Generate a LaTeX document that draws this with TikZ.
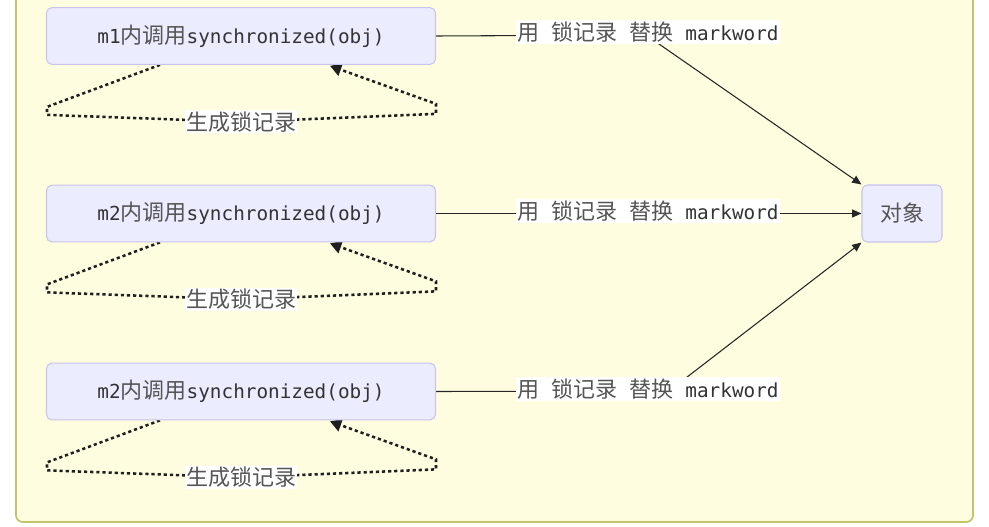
\documentclass[tikz,border=0pt]{standalone}
\usepackage{fontspec}
\setmonofont{DejaVu Sans Mono}
\newfontfamily\cjkfont{Noto Sans CJK SC}
\usetikzlibrary{arrows.meta}
\definecolor{bgfill}{HTML}{FFFDDF}
\definecolor{bgline}{HTML}{C4C46A}
\definecolor{boxfill}{HTML}{ECECFF}
\definecolor{boxline}{HTML}{C9C4EE}
\definecolor{txt}{HTML}{333333}
\definecolor{zhtxt}{HTML}{555555}
\pgfdeclarelayer{bg}
\pgfsetlayers{bg,main}
\newcommand{\zh}[1]{{\fontsize{16.5}{18}\cjkfont\color{zhtxt}#1}}
\newcommand{\mo}[1]{{\fontsize{14.5}{17}\ttfamily\color{txt}#1}}
\newcommand{\gap}{\hspace{9pt}}
\newcommand{\replab}{\zh{用}\gap\zh{锁记录}\gap\zh{替换}\gap\mo{markword}}
\tikzset{
  box/.style={draw=boxline, fill=boxfill, line width=0.8pt, rounded corners=4pt,
    minimum width=291.75pt, minimum height=42.5pt, inner sep=0pt},
  objbox/.style={draw=boxline, fill=boxfill, line width=0.8pt, rounded corners=4pt,
    minimum width=60pt, minimum height=42.75pt, inner sep=0pt},
  lab/.style={fill=white, inner sep=1pt, minimum height=17pt},
  edge/.style={draw=black!85, line width=0.8pt},
  tip/.style={-{Triangle[length=7pt,width=6pt]}},
  bigtip/.style={-{Triangle[length=8.5pt,width=9.5pt]}},
  dotloop/.style={draw=black!88, line width=1.9pt, dash pattern=on 2.4pt off 2.2pt},
}
\begin{document}
\begin{tikzpicture}[x=0.75pt,y=-0.75pt]
\useasboundingbox (0,0) rectangle (989,527);
% nodes
\node[box] (m1) at (241,36) {\mo{m1}\zh{内调用}\mo{synchronized(obj)}};
\node[box] (m2) at (241,213.5) {\mo{m2}\zh{内调用}\mo{synchronized(obj)}};
\node[box] (m3) at (241,391.5) {\mo{m2}\zh{内调用}\mo{synchronized(obj)}};
\node[objbox] (obj) at (902,213.5) {\zh{对象}};
\coordinate (b1) at (646,35);
\coordinate (b3) at (669,391);
\node[lab] (l1) at (648,32) {\replab};
\node[lab] (l2) at (648,211) {\replab};
\node[lab] (l3) at (648,389) {\replab};
\foreach \n in {1,2,3}{
  \node[lab] (s\n) at ([shift={(0,57)}]m\n.south) {\zh{生成锁记录}};
}
\begin{pgfonlayer}{bg}
\draw[fill=bgfill, draw=bgline, line width=1.3pt, rounded corners=5pt] (16,-12) rectangle (973,522);
\draw[edge] (m1.east) -- (b1);
\draw[edge, tip] (b1) -- (obj.north west);
\draw[edge, tip] (m2.east) -- (obj.west);
\draw[edge] (m3.east) -- (b3);
\draw[edge, tip] (b3) -- (obj.south west);
\foreach \n in {1,2,3}{
  \draw[dotloop] ([shift={(-81,0)}]m\n.south) -- ([shift={(-194,42)}]m\n.south)
     -- ([shift={(-194,50)}]m\n.south) -- (s\n.center);
  \draw[dotloop, bigtip] (s\n.center) -- ([shift={(195,49)}]m\n.south)
     -- ([shift={(195,39)}]m\n.south) -- ([shift={(89,1)}]m\n.south);
}
\end{pgfonlayer}
\end{tikzpicture}
\end{document}
